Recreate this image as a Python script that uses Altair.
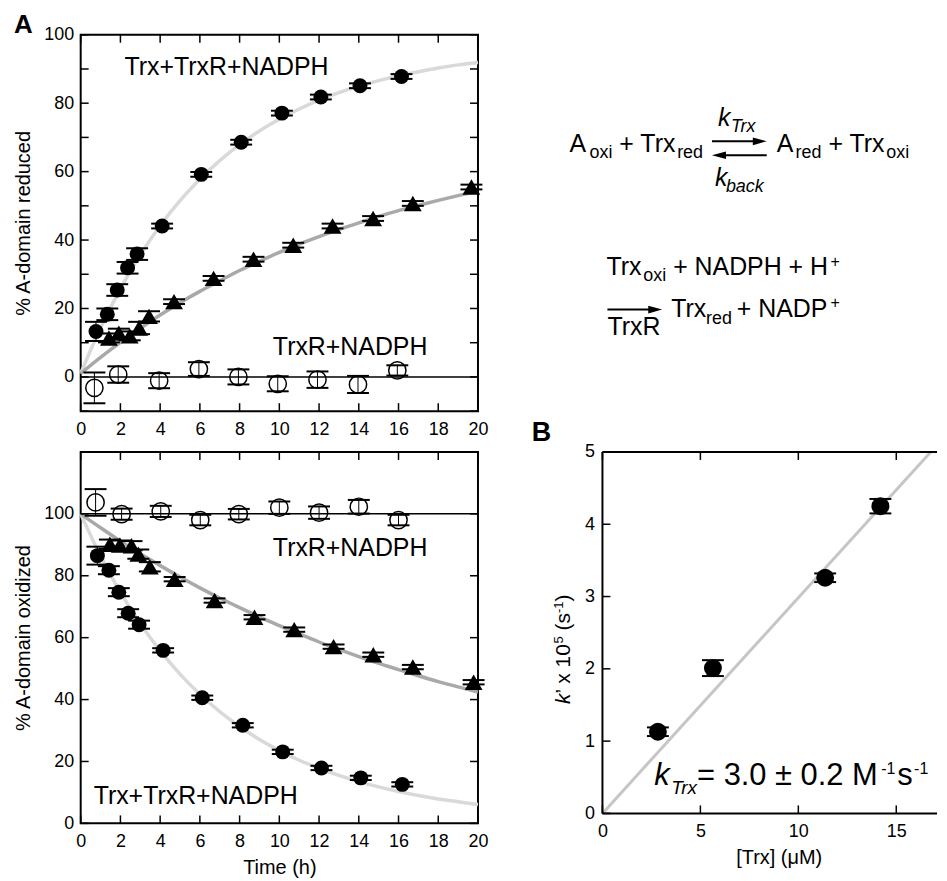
import altair as alt
import pandas as pd

FONT = "Liberation Sans"

# ---------------- data ----------------
fit_t = list(range(0, 21))

# Panel A (top): % A-domain reduced
red_trx_t = [0.77, 1.34, 1.84, 2.36, 2.84, 4.10, 6.07, 8.08, 10.13, 12.09, 14.06, 16.15]
red_trx_v = [13.3, 18.3, 25.4, 31.9, 35.9, 44.1, 59.2, 68.6, 77.1, 81.8, 85.1, 87.8]
red_trx_e = [2.8, 1.7, 1.7, 1.7, 1.7, 0.7, 0.7, 0.7, 0.7, 0.7, 0.7, 0.7]
red_tri_t = [1.42, 1.92, 2.47, 2.94, 3.44, 4.70, 6.69, 8.70, 10.70, 12.68, 14.72, 16.72, 19.67]
red_tri_v = [11.4, 12.8, 12.0, 14.3, 17.7, 22.0, 28.8, 34.4, 38.5, 44.1, 46.3, 50.7, 55.5]
red_tri_e = [1.3, 1.3, 1.3, 1.8, 1.5, 0.7, 0.7, 0.7, 0.7, 0.7, 0.7, 0.7, 0.7]
red_ctl_t = [0.69, 1.89, 3.95, 5.95, 7.94, 9.92, 11.92, 13.96, 15.94]
red_ctl_v = [-3.2, 0.7, -1.1, 2.3, 0.0, -2.0, -0.8, -2.2, 1.9]
red_ctl_e = [4.5, 2.4, 2.2, 2.0, 2.2, 2.2, 2.4, 2.5, 1.5]
red_fit_fast = [1.0, 14.3, 25.8, 35.7, 44.2, 51.5, 57.8, 63.2, 67.9, 71.9, 75.3,
                78.3, 80.9, 83.1, 85.0, 86.6, 88.0, 89.2, 90.3, 91.2, 91.9]
red_fit_slow = [1.0, 5.7, 10.1, 14.2, 18.1, 21.7, 25.0, 28.1, 31.1, 33.8, 36.4,
                38.8, 41.0, 43.1, 45.0, 46.9, 48.6, 50.1, 51.6, 53.0, 54.3]
red_ctl_fit_t = [0, 20]
red_ctl_fit = [0, 0]

# Panel A (bottom): % A-domain oxidized
ox_trx_t = [0.84, 1.42, 1.92, 2.39, 2.94, 4.15, 6.12, 8.16, 10.17, 12.12, 14.10, 16.19]
ox_trx_v = [86.5, 81.8, 74.7, 67.9, 64.2, 55.9, 40.6, 31.7, 23.1, 17.9, 14.7, 12.6]
ox_trx_e = [2.9, 1.3, 1.3, 1.3, 1.3, 0.7, 0.7, 0.7, 0.7, 0.7, 0.7, 0.7]
ox_tri_t = [1.47, 1.97, 2.56, 2.90, 3.48, 4.73, 6.74, 8.75, 10.75, 12.73, 14.73, 16.72, 19.78]
ox_tri_v = [90.2, 89.9, 89.7, 87.0, 82.9, 78.9, 72.0, 66.6, 62.6, 57.1, 54.5, 50.5, 45.6]
ox_tri_e = [1.5, 1.5, 1.5, 1.5, 1.5, 0.7, 0.7, 0.7, 0.7, 0.7, 0.7, 0.7, 0.7]
ox_ctl_t = [0.75, 2.06, 4.03, 6.02, 7.96, 10.0, 12.0, 14.0, 16.0]
ox_ctl_v = [103.7, 99.9, 100.8, 98.0, 99.9, 102.0, 100.4, 102.3, 98.0]
ox_ctl_e = [4.3, 1.8, 1.8, 1.7, 1.7, 2.0, 2.0, 2.2, 1.7]
ox_fit_fast = [100, 86.4, 74.6, 64.5, 55.8, 48.2, 41.7, 36.1, 31.3, 27.1, 23.5,
               20.4, 17.8, 15.5, 13.5, 11.8, 10.3, 9.0, 7.9, 7.0, 6.1]
ox_fit_slow = [100, 95.5, 91.2, 87.1, 83.3, 79.6, 76.1, 72.8, 69.7, 66.7, 63.9,
               61.2, 58.6, 56.2, 53.9, 51.7, 49.7, 47.7, 45.8, 44.1, 42.4]
ox_ctl_fit_t = [0, 20]
ox_ctl_fit = [100, 100]

# Panel B: k' vs [Trx]
b_conc = [2.83, 5.64, 11.37, 14.19]
b_k = [1.13, 2.01, 3.26, 4.25]
b_e = [0.06, 0.11, 0.06, 0.10]
b_fit_x = [0, 16.76]
b_fit_y = [0, 5.0]

# tick values
time_labels = [0, 2, 4, 6, 8, 10, 12, 14, 16, 18, 20]
red_labels = [0, 20, 40, 60, 80, 100]
red_minor = [-10, 0, 10, 20, 30, 40, 50, 60, 70, 80, 90, 100]
ox_labels = [0, 20, 40, 60, 80, 100]
ox_minor = [0, 20, 40, 60, 80, 100, 120]
b_xlabels = [0, 5, 10, 15]
b_ylabels = [0, 1, 2, 3, 4, 5]

# ---------------- layout constants ----------------
W_A, H_TOP, H_BOT = 399, 378, 373
W_B, H_B = 336, 363
TL = 8  # inward tick length

ANNO = pd.DataFrame({"a": [0]})


def label(s, x, y, size, style="normal", weight="normal", angle=None,
          align="left", baseline="alphabetic"):
    kw = dict(text=s, fontSize=size, font=FONT, fontStyle=style, fontWeight=weight,
              align=align, baseline=baseline, color="black")
    if angle is not None:
        kw["angle"] = angle
    return alt.Chart(ANNO).mark_text(**kw).encode(x=alt.value(x), y=alt.value(y))


def hline(x1, x2, y, w=2):
    return alt.Chart(ANNO).mark_rule(color="black", strokeWidth=w).encode(
        x=alt.value(x1), x2=alt.value(x2), y=alt.value(y))


def vline(x, y1, y2, w=2):
    return alt.Chart(ANNO).mark_rule(color="black", strokeWidth=w).encode(
        x=alt.value(x), y=alt.value(y1), y2=alt.value(y2))


def head(x, y, right=True):
    shape = "M1,0L-1,-0.55L-1,0.55Z" if right else "M-1,0L1,-0.55L1,0.55Z"
    return alt.Chart(ANNO).mark_point(shape=shape, size=196, filled=True, color="black",
                                      opacity=1, strokeWidth=0).encode(
        x=alt.value(x), y=alt.value(y))


class Panel:
    def __init__(self, xsc, ysc, xaxis, yaxis):
        self.xsc, self.ysc, self.xaxis, self.yaxis = xsc, ysc, xaxis, yaxis

    def X(self, f):
        return alt.X(f, scale=self.xsc, axis=self.xaxis)

    def Y(self, f):
        return alt.Y(f, scale=self.ysc, axis=self.yaxis)

    def curve(self, t, v, color, width):
        df = pd.DataFrame({"t": t, "v": v})
        return alt.Chart(df).mark_line(color=color, strokeWidth=width,
                                       interpolate="monotone").encode(
            x=self.X("t:Q"), y=self.Y("v:Q"))

    def series(self, t, v, e, shape, size, filled, cap=22):
        df = pd.DataFrame({"t": t, "v": v, "e": e})
        base = alt.Chart(df).transform_calculate(lo="datum.v - datum.e",
                                                 hi="datum.v + datum.e")
        x = self.X("t:Q")
        bar = base.mark_rule(color="black", strokeWidth=1).encode(
            x=x, y=self.Y("lo:Q"), y2="hi:Q")
        c1 = base.mark_tick(orient="horizontal", size=cap, thickness=2, color="black",
                            opacity=1).encode(x=x, y=self.Y("hi:Q"))
        c2 = base.mark_tick(orient="horizontal", size=cap, thickness=2, color="black",
                            opacity=1).encode(x=x, y=self.Y("lo:Q"))
        if filled:
            pts = base.mark_point(shape=shape, size=size, filled=True, color="black",
                                  opacity=1, strokeWidth=0)
        else:
            pts = base.mark_point(shape=shape, size=size, filled=False, color="black",
                                  opacity=1, strokeWidth=1.5)
        pts = pts.encode(x=x, y=self.Y("v:Q"))
        return [bar, c1, c2, pts]

    def ticks(self, xvals, yvals, W, H, sides="tblr"):
        dx = pd.DataFrame({"tx": xvals})
        dy = pd.DataFrame({"ty": yvals})
        out = []
        if "b" in sides:
            out.append(alt.Chart(dx).mark_rule(color="black", strokeWidth=1.5).encode(
                x=self.X("tx:Q"), y=alt.value(H), y2=alt.value(H - TL)))
        if "t" in sides:
            out.append(alt.Chart(dx).mark_rule(color="black", strokeWidth=1.5).encode(
                x=self.X("tx:Q"), y=alt.value(0), y2=alt.value(TL)))
        if "l" in sides:
            out.append(alt.Chart(dy).mark_rule(color="black", strokeWidth=1.5).encode(
                y=self.Y("ty:Q"), x=alt.value(0), x2=alt.value(TL)))
        if "r" in sides:
            out.append(alt.Chart(dy).mark_rule(color="black", strokeWidth=1.5).encode(
                y=self.Y("ty:Q"), x=alt.value(W), x2=alt.value(W - TL)))
        return out


LIGHT = "#d9d9d9"
MID = "#a9a9a9"

AX_COMMON = dict(ticks=False, domain=False, grid=False, labelFontSize=18, labelFont=FONT,
                 labelColor="black", titleFont=FONT, titleFontSize=20, titleFontWeight="normal",
                 titleColor="black", labelOverlap=False, labelFlush=False)

# ---------------- top panel ----------------
XS = alt.Scale(domain=[0, 20], nice=False, zero=False)
YS_R = alt.Scale(domain=[-10, 100], nice=False, zero=False)
P_top = Panel(
    XS, YS_R,
    alt.Axis(values=time_labels, title="", labelPadding=9, format="d", **AX_COMMON),
    alt.Axis(values=red_labels, title="% A-domain reduced", labelPadding=7, titlePadding=10,
             format="d", **AX_COMMON))

top_layers = [
    P_top.curve(fit_t, red_fit_fast, LIGHT, 3.5),
    P_top.curve(fit_t, red_fit_slow, MID, 3.5),
    P_top.curve(red_ctl_fit_t, red_ctl_fit, "black", 1.5),
]
top_layers += P_top.ticks(time_labels, red_minor, W_A, H_TOP)
top_layers += P_top.series(red_ctl_t, red_ctl_v, red_ctl_e, "circle", 300, False)
top_layers += P_top.series(red_tri_t, red_tri_v, red_tri_e, "triangle-up", 320, True)
top_layers += P_top.series(red_trx_t, red_trx_v, red_trx_e, "circle", 225, True)
top_layers += [
    label("Trx+TrxR+NADPH", 44, 40, 25),
    label("TrxR+NADPH", 193, 322, 25),
    label("A", -67, -2, 26, weight="bold"),
]
top = alt.layer(*top_layers).properties(
    width=W_A, height=H_TOP, view=alt.ViewBackground(stroke="black", strokeWidth=2))

# ---------------- bottom panel ----------------
YS_O = alt.Scale(domain=[0, 120], nice=False, zero=False)
P_bot = Panel(
    XS, YS_O,
    alt.Axis(values=time_labels, title="Time (h)", labelPadding=9, titlePadding=7,
             format="d", **AX_COMMON),
    alt.Axis(values=ox_labels, title="% A-domain oxidized", labelPadding=7, titlePadding=10,
             format="d", **AX_COMMON))
bot_layers = [
    P_bot.curve(fit_t, ox_fit_fast, LIGHT, 3.5),
    P_bot.curve(fit_t, ox_fit_slow, MID, 3.5),
    P_bot.curve(ox_ctl_fit_t, ox_ctl_fit, "black", 1.5),
]
bot_layers += P_bot.ticks(time_labels, ox_minor, W_A, H_BOT)
bot_layers += P_bot.series(ox_ctl_t, ox_ctl_v, ox_ctl_e, "circle", 300, False)
bot_layers += P_bot.series(ox_tri_t, ox_tri_v, ox_tri_e, "triangle-up", 320, True)
bot_layers += P_bot.series(ox_trx_t, ox_trx_v, ox_trx_e, "circle", 225, True)
bot_layers += [
    label("TrxR+NADPH", 193, 104, 25),
    label("Trx+TrxR+NADPH", 13, 354, 25),
]
bottom = alt.layer(*bot_layers).properties(
    width=W_A, height=H_BOT, view=alt.ViewBackground(stroke="black", strokeWidth=2))

# ---------------- reaction scheme ----------------
scheme_layers = [
    # line 1
    label("A", -33, 118, 25), label("oxi", -13, 124, 18),
    label("+ Trx", 17, 118, 25), label("red", 75, 124, 18),
    hline(110, 158, 107), head(158, 107, True),
    hline(117, 165, 121), head(117, 121, False),
    label("k", 116, 92, 25, style="italic"), label("Trx", 129, 98, 18, style="italic"),
    label("k", 113, 152, 25, style="italic"), label("back", 124, 158, 18, style="italic"),
    label("A", 175, 118, 25), label("red", 194, 124, 18),
    label("+ Trx", 227, 118, 25), label("oxi", 285, 124, 18),
    # line 2
    label("Trx", 4, 241, 25), label("oxi", 41, 247, 18),
    label("+ NADPH + H", 71, 241, 25), label("+", 229, 233, 16),
    # line 3
    hline(5, 53, 276), head(53, 276, True),
    label("TrxR", 5, 302, 25),
    label("Trx", 69, 283, 25), label("red", 104, 290, 18),
    label("+ NADP", 135, 283, 25), label("+", 229, 274, 16),
]
scheme = alt.layer(*scheme_layers).properties(
    width=W_B, height=H_TOP, view=alt.ViewBackground(stroke="transparent"))

# ---------------- panel B ----------------
XB = alt.Scale(domain=[0, 17.08], nice=False, zero=False)
YB = alt.Scale(domain=[0, 5], nice=False, zero=False)
P_B = Panel(
    XB, YB,
    alt.Axis(values=b_xlabels, title="[Trx] (\u03bcM)", labelPadding=9, titlePadding=7,
             titleX=177, format="d", **AX_COMMON),
    alt.Axis(values=b_ylabels, title="", labelPadding=8, format="d", **AX_COMMON))
b_layers = [
    P_B.curve(b_fit_x, b_fit_y, "#c6c6c6", 3),
    vline(0, 0, H_B), hline(0, W_B, H_B), hline(0, W_B, 0),
]
b_layers += P_B.ticks(b_xlabels, b_ylabels, W_B, H_B, sides="tbl")
b_layers += P_B.series(b_conc, b_k, b_e, "circle", 324, True, cap=22)
b_layers += [
    label("B", -71, -11, 27, weight="bold"),
    # y-axis title pieces (rotated)
    label("k", -33, 253, 21, style="italic", angle=270),
    label("\u2019 x 10", -33, 242.5, 21, angle=270),
    label("5", -40, 192.3, 13, angle=270),
    label("(s", -33, 179.3, 21, angle=270),
    label("-1", -40, 161.8, 13, angle=270),
    label(")", -33, 150.2, 21, angle=270),
    # k_Trx annotation
    label("k", 52, 334, 31, style="italic"),
    label("Trx", 69, 344, 19, style="italic"),
    label("= 3.0 \u00b1 0.2 M", 95, 334, 31),
    label("-1", 280, 323, 16),
    label("s", 296, 334, 31),
    label("-1", 313, 323, 16),
]
panelB = alt.layer(*b_layers).properties(
    width=W_B, height=H_B, view=alt.ViewBackground(stroke="transparent"))

chart = alt.concat(
    top, scheme, bottom, panelB,
    columns=2,
    spacing=alt.RowColnumber(row=41, column=125),
    bounds="flush",
    align="each",
).properties(
    padding={"left": 4, "top": 1, "right": 0, "bottom": 0}
).configure(font=FONT).configure_axis(
    grid=False, ticks=False, domain=False, labelFontSize=18, titleFontSize=20,
    labelFont=FONT, titleFont=FONT, labelColor="black", titleColor="black",
    titleFontWeight="normal", labelOverlap=False, labelFlush=False)

chart.save("out.html", embed_options={"renderer": "svg", "actions": False})
